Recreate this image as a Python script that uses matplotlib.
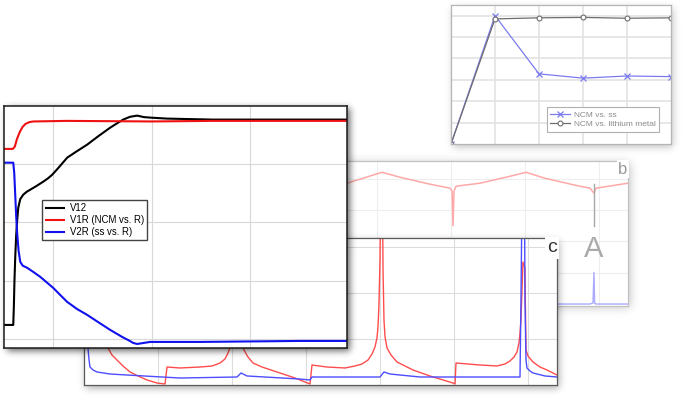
import numpy as np
import matplotlib
matplotlib.use("Agg")
import matplotlib.pyplot as plt

plt.rcParams['font.family'] = ['Liberation Sans', 'DejaVu Sans']

# ---------------- data ----------------
# main panel (time vs. voltage, arbitrary units)
v12_t = [0.50, 0.594, 0.600, 0.606, 0.614, 0.624, 0.635, 0.645, 0.665, 0.695, 0.730,
         0.766, 0.830, 0.898, 0.95, 0.99, 1.05, 1.142, 1.24, 1.345, 1.46, 1.579,
         1.65, 1.711, 1.78, 1.853, 1.92, 1.985, 2.157, 2.624, 3.985]
v12_v = [0.245, 0.245, 0.55, 0.983, 1.40, 1.789, 2.06, 2.252, 2.40, 2.475, 2.525,
         2.561, 2.625, 2.698, 2.76, 2.818, 2.93, 3.11, 3.22, 3.333, 3.48, 3.624,
         3.70, 3.762, 3.81, 3.83, 3.805, 3.796, 3.779, 3.762, 3.762]
v1r_t = [0.50, 0.59, 0.61, 0.63, 0.66, 0.69, 0.72, 0.76, 0.80, 1.14, 2.0, 2.6, 3.985]
v1r_v = [3.26, 3.26, 3.30, 3.42, 3.55, 3.64, 3.69, 3.72, 3.73, 3.74, 3.73, 3.74, 3.74]
v2r_t = [0.50, 0.594, 0.604, 0.614, 0.624, 0.635, 0.648, 0.665, 0.69, 0.736, 0.80,
         0.868, 0.93, 1.0, 1.07, 1.142, 1.24, 1.345, 1.46, 1.579, 1.70, 1.78,
         1.812, 1.853, 1.985, 2.492, 3.508, 3.985]
v2r_v = [3.024, 3.024, 2.85, 2.475, 2.10, 1.789, 1.52, 1.326, 1.26, 1.223, 1.15,
         1.069, 0.98, 0.88, 0.76, 0.64, 0.52, 0.417, 0.29, 0.16, 0.04, -0.03,
         -0.063, -0.081, -0.046, -0.046, -0.029, -0.029]
main_labels = ['V12', 'V1R (NCM vs. R)', 'V2R (ss vs. R)']

# panel c
c_red_t = [0.054, 0.081, 0.162, 0.243, 0.324, 0.378, 0.446, 0.527, 0.622, 0.730, 0.851,
           0.986, 1.095, 1.122, 1.297, 1.568, 1.730, 1.838, 1.905, 1.946, 1.986, 2.014,
           2.041, 2.068, 2.095, 2.122, 2.162, 2.216, 2.284, 2.405, 2.649, 2.851, 3.054,
           3.081, 3.284, 3.527, 3.662, 3.757, 3.838, 3.892, 3.932, 3.959, 3.973, 3.986,
           4.0, 4.007, 4.034, 4.041, 4.054, 4.068, 4.095, 4.149, 4.230, 4.338, 4.446,
           4.676, 4.986, 5.014, 5.027, 5.351, 5.581, 5.689, 5.757, 5.811, 5.851, 5.878,
           5.892, 5.905, 5.919, 5.932, 5.959, 5.966, 5.973, 6.0, 6.068, 6.162, 6.257,
           6.392]
c_red_v = [3.196, 1.848, 1.304, 0.978, 0.804, 0.652, 0.543, 0.413, 0.283, 0.196, 0.109,
           0.043, 0.022, 0.391, 0.370, 0.391, 0.413, 0.478, 0.565, 0.696, 0.870, 1.196,
           1.848, 1.848, 1.413, 1.022, 0.761, 0.609, 0.478, 0.391, 0.261, 0.152, 0.022,
           0.435, 0.391, 0.370, 0.413, 0.457, 0.543, 0.674, 0.826, 1.022, 1.261, 1.739,
           2.717, 4.02, 4.02, 2.500, 1.413, 1.043, 0.804, 0.652, 0.500, 0.413, 0.326,
           0.196, 0.043, 0.022, 0.478, 0.435, 0.413, 0.457, 0.522, 0.609, 0.717, 0.913,
           1.130, 1.413, 2.065, 2.674, 2.543, 1.630, 0.761, 0.630, 0.500, 0.391, 0.326,
           0.217]
c_blue_t = [0.014, 0.027, 0.041, 0.054, 0.068, 0.081, 0.122, 0.176, 0.351, 0.581, 1.297,
            2.068, 2.122, 2.203, 2.919, 3.054, 3.081, 4.0, 4.054, 4.135, 4.541, 5.892,
            5.905, 5.919, 5.953, 5.959, 5.973, 5.986, 6.027, 6.068, 6.230, 6.392]
c_blue_v = [3.152, 1.848, 1.196, 0.804, 0.543, 0.391, 0.326, 0.283, 0.239, 0.217, 0.152,
            0.174, 0.261, 0.196, 0.130, 0.109, 0.174, 0.174, 0.283, 0.239, 0.174, 0.174,
            1.848, 4.02, 4.02, 1.848, 0.543, 0.370, 0.304, 0.261, 0.196, 0.174]

# panel b
b_red_t = [0.0, 0.122, 0.554, 0.959, 1.068, 1.081, 1.095, 1.365, 1.595, 2.068, 2.311,
           2.716, 2.986, 3.014, 3.027, 3.041, 3.068, 3.392, 3.797, 4.014, 4.27, 4.676,
           4.878, 4.932, 4.959, 5.392]
b_red_v = [3.979, 4.2, 3.915, 3.726, 3.631, 2.494, 3.631, 3.757, 3.852, 4.2, 4.042,
           3.821, 3.694, 3.6, 2.494, 3.6, 3.757, 3.852, 4.073, 4.2, 4.01, 3.789,
           3.694, 3.536, 3.694, 3.852]
b_blue_t = [0.0, 3.662, 4.878, 4.919, 4.932, 4.941, 4.959, 5.392]
b_blue_v = [0.0, 0.0, 0.0, 0.032, 1.01, 0.032, 0.0, 0.0]
b_marker_t = 4.932
b_marker_v = (2.494, 3.821)
b_marker_label = 'A'

# top-right panel
tr_x = [0, 1, 2, 3, 4, 5]
tr_ss = [0.0, 6.0, 3.28, 3.08, 3.18, 3.15]
tr_li = [0.0, 5.85, 5.9, 5.92, 5.88, 5.9]
tr_labels = ['NCM vs. ss', 'NCM vs. lithium metal']

# ---------------- figure ----------------
W, H = 697, 398
fig = plt.figure(figsize=(W / 100, H / 100), dpi=100)
fig.patch.set_facecolor('white')


def rect(x0, y0, x1, y1):
    return [x0 / W, 1 - y1 / H, (x1 - x0) / W, (y1 - y0) / H]


def shadow(x0, y0, x1, y1, dx, dy, sigma, alpha, z):
    m = np.zeros((H, W))
    m[int(y0 + dy):int(y1 + dy), int(x0 + dx):int(x1 + dx)] = 1.0
    r = int(3 * sigma)
    k = np.exp(-0.5 * (np.arange(-r, r + 1) / sigma) ** 2)
    k /= k.sum()
    m = np.apply_along_axis(lambda a: np.convolve(a, k, 'same'), 1, m)
    m = np.apply_along_axis(lambda a: np.convolve(a, k, 'same'), 0, m)
    img = np.zeros((H, W, 4))
    img[..., 3] = alpha * m
    fig.figimage(img, 0, 0, origin='upper', zorder=z)


def style(ax, grid_color, spine_color, lw=0.9, glw=0.8):
    ax.set_facecolor('white')
    ax.grid(True, color=grid_color, linewidth=glw)
    ax.set_axisbelow(True)
    ax.tick_params(length=0, labelbottom=False, labelleft=False)
    for s in ax.spines.values():
        s.set_color(spine_color)
        s.set_linewidth(lw)


# top-right panel
shadow(451, 5, 671, 144, 2, 3, 4, 0.25, 0.5)
ax_tr = fig.add_axes(rect(451, 5, 671, 144))
ax_tr.set_zorder(1)
style(ax_tr, '#e3e3e3', '#b5b5b5', 0.9, 1.2)
ax_tr.plot(tr_x, tr_ss, color='#7b7bef', lw=0.9, marker='x', ms=4, mew=0.9,
           label=tr_labels[0])
ax_tr.plot(tr_x, tr_li, color='#6e6e6e', lw=0.9, marker='o', ms=3.5, mew=0.8,
           mfc='white', label=tr_labels[1])
ax_tr.set_xlim(0, 5)
ax_tr.set_ylim(0, 6.5)
ax_tr.set_xticks([1, 2, 3, 4])
ax_tr.set_yticks([1, 2, 3, 4, 5, 6])
leg = ax_tr.legend(loc='center', bbox_to_anchor=(0.691, 0.176), fontsize=6.0,
                   frameon=True, fancybox=False, edgecolor='#b0b0b0', framealpha=1,
                   borderaxespad=0, handlelength=2.3, handletextpad=0.5,
                   borderpad=0.45, labelspacing=0.15)
leg.get_frame().set_linewidth(0.8)
for t in leg.get_texts():
    t.set_color('#8a8a8a')

# panel b
shadow(229, 161, 628, 305.6, 2, 2, 5, 0.25, 1.5)
ax_b = fig.add_axes(rect(229, 161, 628, 305.6))
ax_b.set_zorder(2)
style(ax_b, '#eeeeee', '#c2c2c2', 0.9, 0.8)
ax_b.plot(b_red_t, b_red_v, color='#ffa8a8', lw=1.1)
ax_b.plot(b_blue_t, b_blue_v, color='#aaaaff', lw=1.0)
ax_b.plot([b_marker_t, b_marker_t], b_marker_v, color='#a8a8a8', lw=1.0)
ax_b.text(b_marker_t, 1.76, b_marker_label, ha='center', va='center',
          fontsize=21, color='#aaaaaa')
ax_b.set_xlim(0, 5.392)
ax_b.set_ylim(-0.05, 4.56)
ax_b.set_xticks([2, 3, 4, 5])
ax_b.set_yticks([1, 2, 3, 4])
ax_b.text(0.999, 0.995, 'b', transform=ax_b.transAxes, ha='right', va='top',
          fontsize=12, color='#999999',
          bbox=dict(facecolor='white', edgecolor='none', pad=1.0))

# panel c
shadow(84, 238, 557, 385, 2, 3, 4, 0.35, 2.5)
ax_c = fig.add_axes(rect(84, 238, 557, 385))
ax_c.set_zorder(3)
style(ax_c, '#dcdcdc', '#5a5a5a', 0.9, 0.8)
ax_c.plot(c_red_t, c_red_v, color='#ff4d4d', lw=1.0)
ax_c.plot(c_blue_t, c_blue_v, color='#4d4dff', lw=1.0)
ax_c.set_xlim(0, 6.392)
ax_c.set_ylim(0, 3.196)
ax_c.set_xticks([1, 2, 3, 4, 5, 6])
ax_c.set_yticks([1, 2, 3])
ax_c.text(0.999, 0.99, 'c', transform=ax_c.transAxes, ha='right', va='top',
          fontsize=14, color='#333333',
          bbox=dict(facecolor='white', edgecolor='none', pad=1.5))

# main panel
shadow(4, 105.7, 347, 348, 3, 3, 3.5, 0.6, 3.5)
ax = fig.add_axes(rect(4, 105.7, 347, 348))
ax.set_zorder(4)
style(ax, '#d8d8d8', '#1a1a1a', 1.1, 0.8)
l1, = ax.plot(v12_t, v12_v, color='black', lw=1.5)
l2, = ax.plot(v1r_t, v1r_v, color='#ee1111', lw=1.5)
l3, = ax.plot(v2r_t, v2r_v, color='#1111ee', lw=1.5)
ax.set_xlim(0.50, 3.985)
ax.set_ylim(-0.15, 4.0)
ax.set_xticks([1, 2, 3])
ax.set_yticks([0, 1, 2, 3])
leg = ax.legend([l1, l2, l3], main_labels, loc='center',
                bbox_to_anchor=(0.265, 0.528), fontsize=6.9, frameon=True,
                fancybox=False, edgecolor='#444444', framealpha=1,
                borderaxespad=0, handlelength=1.9, handletextpad=0.6,
                borderpad=0.35, labelspacing=0.2)
leg.get_frame().set_linewidth(1.0)

fig.savefig('out.png', dpi=100)
